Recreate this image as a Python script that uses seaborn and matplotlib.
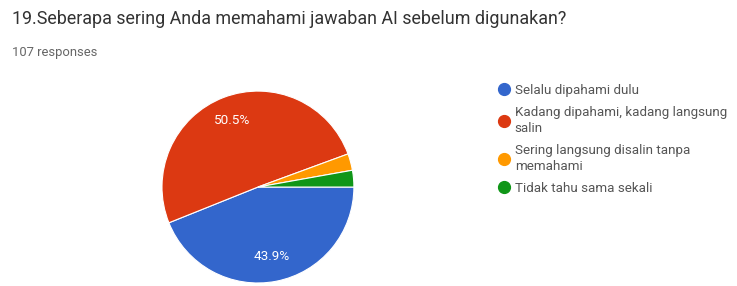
import matplotlib
matplotlib.use("Agg")
import matplotlib.pyplot as plt
import seaborn as sns
from matplotlib.lines import Line2D

# =====================================================
# DATA
# =====================================================

title = "19.Seberapa sering Anda memahami jawaban AI sebelum digunakan?"
n_responses = 107

categories = [
    "Selalu dipahami dulu",
    "Kadang dipahami, kadang langsung\nsalin",
    "Sering langsung disalin tanpa\nmemahami",
    "Tidak tahu sama sekali",
]
counts = [47, 54, 3, 3]
colors = ["#3366CC", "#DC3912", "#FF9900", "#109618"]

# =====================================================
# STYLE
# =====================================================

sns.set_theme(style="white")
plt.rcParams["font.family"] = ["Roboto", "DejaVu Sans"]

W, H = 737, 286
fig = plt.figure(figsize=(W / 100, H / 100), dpi=100)
renderer = fig.canvas.get_renderer()


def fit_size(text, width_px, start=10):
    # scale font size so the text spans the wanted pixel width
    t = fig.text(0, 0, text, fontsize=start)
    w = t.get_window_extent(renderer).width
    t.remove()
    return start * width_px / w


# =====================================================
# PIE
# =====================================================

ax = fig.add_axes([0.2185, 0.007, 0.263, 0.678])


def pct_label(p):
    return f"{p:.1f}%" if p > 5 else ""


wedges, texts, autotexts = ax.pie(
    counts,
    colors=colors,
    startangle=0,
    counterclock=False,
    autopct=pct_label,
    pctdistance=0.74,
    wedgeprops=dict(edgecolor="white", linewidth=0.8),
    textprops=dict(color="white", fontsize=fit_size("50.5%", 36)),
)
ax.set_xlim(-1.01, 1.01)
ax.set_ylim(-1.01, 1.01)
ax.set_aspect("equal")
ax.axis("off")

# =====================================================
# LEGEND
# =====================================================

leg_size = fit_size(categories[0], 123)

handles = [
    Line2D([0], [0], marker="o", linestyle="", markersize=8.5,
           markerfacecolor=c, markeredgecolor=c)
    for c in colors
]

leg = fig.legend(
    handles,
    categories,
    loc="upper left",
    bbox_to_anchor=(498 / W, 1 - 84 / H),
    frameon=False,
    fontsize=leg_size,
    labelcolor="#555555",
    handletextpad=0.35,
    handlelength=0.9,
    labelspacing=0.7,
    borderaxespad=0,
    borderpad=0,
)
for t in leg.get_texts():
    t.set_linespacing(1.25)

# =====================================================
# TITLES
# =====================================================

fig.text(12 / W, 1 - 19 / H, title, fontsize=fit_size(title, 555),
         color="#333333", va="center", ha="left")
fig.text(12 / W, 1 - 52 / H, f"{n_responses} responses",
         fontsize=fit_size(f"{n_responses} responses", 86),
         color="#666666", va="center", ha="left")

plt.savefig("out.png", dpi=100)
plt.close()
